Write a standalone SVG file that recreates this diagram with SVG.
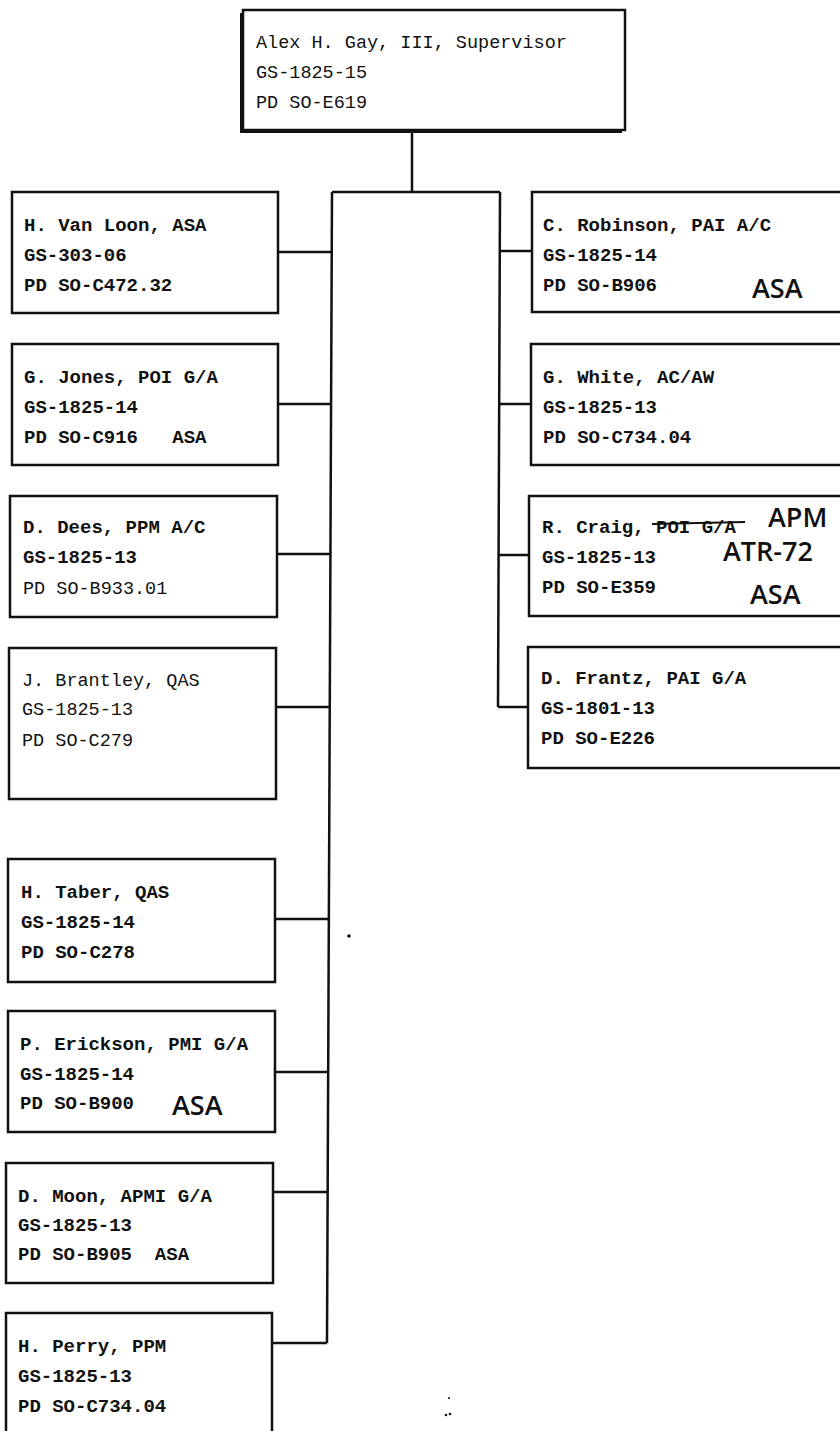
<svg xmlns="http://www.w3.org/2000/svg" width="840" height="1431" viewBox="0 0 840 1431">
<style>
  .box { fill: #fff; stroke: #111; stroke-width: 2.5; }
  .t { font-family: "Liberation Mono", "Courier New", monospace; font-size: 19px; fill: #111; font-weight: bold; white-space: pre; }
  .tn { font-family: "Liberation Mono", "Courier New", monospace; font-size: 18.5px; fill: #111; white-space: pre; }
  .hw { font-family: "Open Sans", "DejaVu Sans", sans-serif; font-size: 27px; fill: #111; font-weight: 600; }
  .ln { fill: none; stroke: #111; stroke-width: 2.5; }
</style>
<rect width="840" height="1431" fill="#fff"/>

<g id="connectors">
  <path class="ln" d="M412 130 V192 M332 192 H500"/>
  <path class="ln" d="M332 192 L327 1343"/>
  <path class="ln" d="M500 192 L498 707"/>
  <path class="ln" d="M278 252 H332 M278 404 H331 M277 554 H331 M276 707 H330 M275 919 H329 M275 1072 H328 M273 1192 H328 M272 1343 H327"/>
  <path class="ln" d="M500 251 H532 M500 404 H531 M499 555 H529 M498 707 H528"/>
</g>

<g id="supervisor">
  <rect x="240" y="13" width="382" height="120" fill="#111"/>
  <rect class="box" x="243" y="10" width="382" height="120"/>
  <text class="tn" x="256" y="48">Alex H. Gay, III, Supervisor</text>
  <text class="tn" x="256" y="78">GS-1825-15</text>
  <text class="tn" x="256" y="108">PD SO-E619</text>
</g>

<g id="vanloon">
  <rect class="box" x="12" y="192" width="266" height="121"/>
  <text class="t" x="24" y="231">H. Van Loon, ASA</text>
  <text class="t" x="24" y="261">GS-303-06</text>
  <text class="t" x="24" y="291">PD SO-C472.32</text>
</g>

<g id="jones">
  <rect class="box" x="12" y="344" width="266" height="121"/>
  <text class="t" x="24" y="383">G. Jones, POI G/A</text>
  <text class="t" x="24" y="413">GS-1825-14</text>
  <text class="t" x="24" y="443" xml:space="preserve">PD SO-C916   ASA</text>
</g>

<g id="dees">
  <rect class="box" x="10" y="496" width="267" height="121"/>
  <text class="t" x="23" y="533">D. Dees, PPM A/C</text>
  <text class="t" x="23" y="563">GS-1825-13</text>
  <text class="tn" x="23" y="594">PD SO-B933.01</text>
</g>

<g id="brantley">
  <rect class="box" x="9" y="648" width="267" height="151"/>
  <text class="tn" x="22" y="686">J. Brantley, QAS</text>
  <text class="tn" x="22" y="715">GS-1825-13</text>
  <text class="tn" x="22" y="746">PD SO-C279</text>
</g>

<g id="taber">
  <rect class="box" x="8" y="859" width="267" height="123"/>
  <text class="t" x="21" y="898">H. Taber, QAS</text>
  <text class="t" x="21" y="928">GS-1825-14</text>
  <text class="t" x="21" y="958">PD SO-C278</text>
</g>

<g id="erickson">
  <rect class="box" x="8" y="1011" width="267" height="121"/>
  <text class="t" x="20" y="1050">P. Erickson, PMI G/A</text>
  <text class="t" x="20" y="1080">GS-1825-14</text>
  <text class="t" x="20" y="1109">PD SO-B900</text>
  <text class="hw" x="172" y="1115" font-size="30">ASA</text>
</g>

<g id="moon">
  <rect class="box" x="6" y="1163" width="267" height="120"/>
  <text class="t" x="18" y="1202">D. Moon, APMI G/A</text>
  <text class="t" x="18" y="1231">GS-1825-13</text>
  <text class="t" x="18" y="1260" xml:space="preserve">PD SO-B905  ASA</text>
</g>

<g id="perry">
  <rect class="box" x="6" y="1313" width="266" height="130"/>
  <text class="t" x="18" y="1352">H. Perry, PPM</text>
  <text class="t" x="18" y="1382">GS-1825-13</text>
  <text class="t" x="18" y="1412">PD SO-C734.04</text>
</g>

<g id="robinson">
  <rect class="box" x="532" y="192" width="320" height="120"/>
  <text class="t" x="543" y="231">C. Robinson, PAI A/C</text>
  <text class="t" x="543" y="261">GS-1825-14</text>
  <text class="t" x="543" y="291">PD SO-B906</text>
  <text class="hw" x="752" y="298" font-size="30">ASA</text>
</g>

<g id="white">
  <rect class="box" x="531" y="344" width="320" height="121"/>
  <text class="t" x="543" y="383">G. White, AC/AW</text>
  <text class="t" x="543" y="413">GS-1825-13</text>
  <text class="t" x="543" y="443">PD SO-C734.04</text>
</g>

<g id="craig">
  <rect class="box" x="529" y="496" width="322" height="120"/>
  <text class="t" x="542" y="533">R. Craig, POI G/A</text>
  <line x1="652" y1="524" x2="745" y2="522" stroke="#111" stroke-width="2"/>
  <text class="hw" x="768" y="527" font-size="25">APM</text>
  <text class="hw" x="723" y="561" font-size="21">ATR-72</text>
  <text class="t" x="542" y="563">GS-1825-13</text>
  <text class="t" x="542" y="593">PD SO-E359</text>
  <text class="hw" x="750" y="604" font-size="27">ASA</text>
</g>

<g id="frantz">
  <rect class="box" x="528" y="647" width="322" height="121"/>
  <text class="t" x="541" y="684">D. Frantz, PAI G/A</text>
  <text class="t" x="541" y="714">GS-1801-13</text>
  <text class="t" x="541" y="744">PD SO-E226</text>
</g>

<g id="marks" fill="#111">
  <circle cx="349" cy="936" r="1.8"/>
  <circle cx="449" cy="1398" r="1"/>
  <circle cx="446" cy="1415" r="1.3"/>
  <circle cx="450" cy="1414" r="1.3"/>
</g>
</svg>
